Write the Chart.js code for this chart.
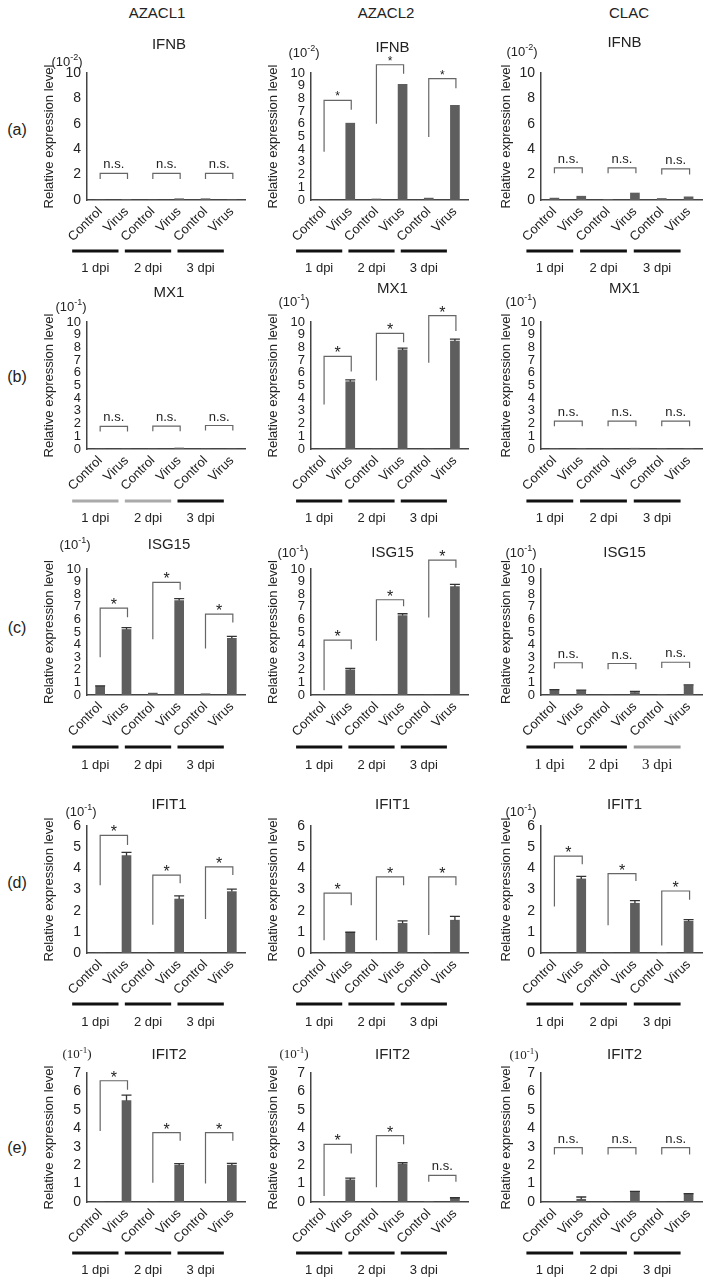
<!DOCTYPE html>
<html lang="en">
<head>
<meta charset="UTF-8">
<title>Relative expression level</title>
<script src="https://cdn.jsdelivr.net/npm/chart.js"></script>
<style>
  body { margin: 0; background: #fff; }
  #fig { position: relative; width: 708px; height: 1283px; font-family: 'Liberation Sans', Arial, sans-serif; color: #222; }
  .lbl { position: absolute; font-size: 15px; transform: translate(-50%, -50%); white-space: nowrap; }
  canvas { position: absolute; }
</style>
</head>
<body>
<div id="fig"></div>
<script>
// ---- data ----
const cellLines = ['AZACL1', 'AZACL2', 'CLAC'];
const rowTags = ['(a)', '(b)', '(c)', '(d)', '(e)'];
const genes = ['IFNB', 'MX1', 'ISG15', 'IFIT1', 'IFIT2'];
const categories = ['Control', 'Virus', 'Control', 'Virus', 'Control', 'Virus'];
const dpiLabels = ['1 dpi', '2 dpi', '3 dpi'];
const yMax = [10, 10, 10, 6, 7];
const exponents = ['-2', '-1', '-1', '-1', '-1'];
const tickSteps = [[2, 1, 2], [1, 1, 1], [1, 1, 1], [1, 1, 1], [1, 1, 1]];

// values per cell line: AZACL1, AZACL2, CLAC
const ifnbValues = [
  [0, 0.05, 0, 0.1, 0.1, 0.02],
  [0, 6.05, 0.08, 9.1, 0.15, 7.45],
  [0.15, 0.3, 0.05, 0.55, 0.12, 0.25]
];
const ifnbErrors = [
  [0, 0, 0, 0, 0, 0],
  [0, 0, 0, 0, 0, 0],
  [0, 0, 0, 0, 0, 0]
];
// [bracket top, left leg end, right leg end, label]
const ifnbMarks = [
  [[2.1, 1.65, 1.65, 'n.s.'], [2.1, 1.65, 1.65, 'n.s.'], [2.1, 1.65, 1.65, 'n.s.']],
  [[7.85, 3.8, 7.1, '*'], [10.65, 6.0, 9.95, '*'], [9.56, 4.96, 8.8, '*']],
  [[2.53, 2.1, 2.1, 'n.s.'], [2.53, 2.1, 2.1, 'n.s.'], [2.45, 2.0, 2.0, 'n.s.']]
];

const mx1Values = [
  [0, 0, 0, 0.08, 0, 0],
  [0, 5.3, 0, 7.8, 0, 8.5],
  [0.02, 0.02, 0, 0.06, 0.02, 0.02]
];
const mx1Errors = [
  [0, 0, 0, 0, 0, 0],
  [0, 0.15, 0, 0.15, 0, 0.15],
  [0, 0, 0, 0, 0, 0]
];
const mx1Marks = [
  [[1.78, 1.38, 1.38, 'n.s.'], [1.8, 1.4, 1.4, 'n.s.'], [1.85, 1.45, 1.45, 'n.s.']],
  [[7.3, 3.5, 6.1, '*'], [9.1, 5.4, 8.4, '*'], [10.5, 6.8, 9.3, '*']],
  [[2.2, 1.8, 1.8, 'n.s.'], [2.2, 1.8, 1.8, 'n.s.'], [2.2, 1.8, 1.8, 'n.s.']]
];

const isg15Values = [
  [0.7, 5.2, 0.15, 7.5, 0.1, 4.5],
  [0, 2.0, 0, 6.3, 0, 8.6],
  [0.4, 0.35, 0, 0.2, 0.02, 0.75]
];
const isg15Errors = [
  [0.03, 0.15, 0, 0.15, 0, 0.15],
  [0, 0.12, 0, 0.15, 0, 0.18],
  [0.03, 0.03, 0, 0.08, 0, 0.05]
];
const isg15Marks = [
  [[6.9, 3.0, 6.18, '*'], [8.94, 4.43, 8.36, '*'], [6.42, 3.7, 5.76, '*']],
  [[4.36, 0.38, 3.64, '*'], [7.56, 4.3, 7.05, '*'], [10.7, 6.15, 10.1, '*']],
  [[2.56, 2.1, 2.1, 'n.s.'], [2.5, 2.05, 2.05, 'n.s.'], [2.6, 2.15, 2.15, 'n.s.']]
];

const ifit1Values = [
  [0, 4.6, 0, 2.55, 0, 2.9],
  [0, 0.95, 0, 1.4, 0, 1.55],
  [0, 3.5, 0, 2.35, 0.02, 1.5]
];
const ifit1Errors = [
  [0, 0.15, 0, 0.15, 0, 0.12],
  [0, 0.03, 0, 0.12, 0, 0.18],
  [0, 0.12, 0, 0.12, 0, 0.08]
];
const ifit1Marks = [
  [[5.56, 3.2, 5.1, '*'], [3.68, 1.33, 3.29, '*'], [4.07, 1.61, 3.68, '*']],
  [[2.83, 0.6, 2.26, '*'], [3.6, 0.6, 3.2, '*'], [3.6, 0.85, 3.2, '*']],
  [[4.58, 2.2, 4.19, '*'], [3.75, 1.31, 3.4, '*'], [2.93, 0.36, 2.52, '*']]
];

const ifit2Values = [
  [0, 5.5, 0, 2.0, 0, 2.0],
  [0, 1.2, 0, 2.05, 0.02, 0.2],
  [0, 0.15, 0, 0.55, 0, 0.42]
];
const ifit2Errors = [
  [0, 0.3, 0, 0.08, 0, 0.1],
  [0, 0.1, 0, 0.08, 0, 0.03],
  [0, 0.12, 0, 0.03, 0, 0.03]
];
const ifit2Marks = [
  [[6.58, 3.85, 6.09, '*'], [3.76, 1.05, 3.33, '*'], [3.76, 1.0, 3.33, '*']],
  [[3.13, 0.33, 2.63, '*'], [3.6, 0.8, 3.13, '*'], [1.44, 1.1, 1.1, 'n.s.']],
  [[2.95, 2.58, 2.58, 'n.s.'], [2.95, 2.58, 2.58, 'n.s.'], [2.95, 2.58, 2.58, 'n.s.']]
];

const valueSets = [ifnbValues, mx1Values, isg15Values, ifit1Values, ifit2Values];
const errorSets = [ifnbErrors, mx1Errors, isg15Errors, ifit1Errors, ifit2Errors];
const markSets = [ifnbMarks, mx1Marks, isg15Marks, ifit1Marks, ifit2Marks];

// ---- layout ----
const SANS = '"Liberation Sans", Arial, sans-serif';
const SERIF = '"Liberation Serif", "Times New Roman", serif';
const colGeom = [
  { left: 42, axis: 87, right: 250, pad: 5, head: 157 },
  { left: 266, axis: 311, right: 473, pad: 5, head: 386 },
  { left: 499, axis: 541, right: 708, pad: 6, head: 629 }
];
const rowGeom = [
  { top: 73, zero: 200, dpiBar: 251, dpiText: 268, tag: 130 },
  { top: 322, zero: 449, dpiBar: 501, dpiText: 518, tag: 377 },
  { top: 569, zero: 695, dpiBar: 747, dpiText: 765, tag: 628 },
  { top: 826, zero: 953, dpiBar: 1004, dpiText: 1022, tag: 883 },
  { top: 1073, zero: 1202, dpiBar: 1253, dpiText: 1270, tag: 1148 }
];
const titleY = [[45, 48, 43], [293, 289, 289], [545, 553, 553], [805, 805, 805], [1055, 1055, 1055]];
const expY = [[62, 53, 52], [307, 302, 302], [545, 553, 553], [812, null, 812], [1055, 1055, 1056]];
const expX = [[67, 304, 522], [71, 294, 521], [75, 293, 521], [81, null, 521], [77, 294, 524]];
const tickFont = [[14, 13, 14], [13, 13, 13], [13, 13, 13], [14, 14, 14], [14, 14, 14]];
const dpiShade = { '1-0': ['#aaa', '#aaa', '#111'], '2-2': ['#111', '#111', '#999'] };

const fig = document.getElementById('fig');

function addLabel(text, x, y, size) {
  const d = document.createElement('div');
  d.className = 'lbl';
  d.textContent = text;
  d.style.left = x + 'px';
  d.style.top = y + 'px';
  if (size) d.style.fontSize = size + 'px';
  fig.appendChild(d);
}

cellLines.forEach((name, c) => addLabel(name, colGeom[c].head, 12, 15));
rowTags.forEach((t, r) => addLabel(t, 17, rowGeom[r].tag, 16));

function drawExp(ctx, cx, cy, exp, serif) {
  const fam = serif ? SERIF : SANS;
  const big = '13px ' + fam, small = '9px ' + fam;
  ctx.font = big;
  const w1 = ctx.measureText('(10').width, w3 = ctx.measureText(')').width;
  ctx.font = small;
  const w2 = ctx.measureText(exp).width;
  let x = cx - (w1 + w2 + w3) / 2;
  ctx.textAlign = 'left';
  ctx.textBaseline = 'middle';
  ctx.fillStyle = '#222';
  ctx.font = big; ctx.fillText('(10', x, cy); x += w1;
  ctx.font = small; ctx.fillText(exp, x, cy - 4); x += w2;
  ctx.font = big; ctx.fillText(')', x, cy);
}

function makePanel(r, c) {
  const g = rowGeom[r], k = colGeom[c];
  const canvasTop = g.top - 45;
  const canvas = document.createElement('canvas');
  canvas.width = k.right - k.left;
  canvas.height = g.zero + 82 - canvasTop;
  canvas.style.left = k.left + 'px';
  canvas.style.top = canvasTop + 'px';
  fig.appendChild(canvas);

  const vals = valueSets[r][c];
  const errs = errorSets[r][c];
  const marks = markSets[r][c];

  const extras = {
    id: 'extras',
    afterDatasetsDraw(chart) {
      const ctx = chart.ctx, xs = chart.scales.x, ys = chart.scales.y;
      const px = i => xs.getPixelForValue(i);
      ctx.save();
      // error bars
      ctx.strokeStyle = '#333';
      ctx.lineWidth = 1.3;
      errs.forEach((e, i) => {
        if (!e) return;
        const x = px(i), y0 = ys.getPixelForValue(vals[i]), y1 = ys.getPixelForValue(vals[i] + e);
        ctx.beginPath();
        ctx.moveTo(x, y0); ctx.lineTo(x, y1);
        ctx.moveTo(x - 5, y1); ctx.lineTo(x + 5, y1);
        ctx.stroke();
      });
      // significance brackets
      marks.forEach((m, gi) => {
        const [top, lb, rb, label] = m;
        const xl = px(2 * gi), xr = px(2 * gi + 1) + 1;
        const yt = ys.getPixelForValue(top);
        ctx.strokeStyle = '#666';
        ctx.lineWidth = 1.2;
        ctx.beginPath();
        ctx.moveTo(xl, ys.getPixelForValue(lb));
        ctx.lineTo(xl, yt);
        ctx.lineTo(xr, yt);
        ctx.lineTo(xr, ys.getPixelForValue(rb));
        ctx.stroke();
        ctx.fillStyle = '#222';
        ctx.textAlign = 'center';
        ctx.textBaseline = 'alphabetic';
        if (label === '*') {
          ctx.font = (r === 0 ? '12px ' : '16px ') + SANS;
          ctx.fillText('*', (xl + xr) / 2, yt + (r === 0 ? 0 : 2));
        } else {
          ctx.font = '13px ' + SANS;
          ctx.fillText(label, (xl + xr) / 2, yt - 5);
        }
      });
      // time point bars and labels
      const shades = dpiShade[r + '-' + c] || ['#111', '#111', '#111'];
      dpiLabels.forEach((t, gi) => {
        const x0 = px(2 * gi) - 28, x1 = px(2 * gi + 1) - 8;
        const yb = g.dpiBar - canvasTop;
        ctx.strokeStyle = shades[gi];
        ctx.lineWidth = 3;
        ctx.beginPath();
        ctx.moveTo(x0, yb); ctx.lineTo(x1, yb);
        ctx.stroke();
        ctx.fillStyle = '#222';
        ctx.font = (r === 2 && c === 2 ? '15px ' + SERIF : '13px ' + SANS);
        ctx.textAlign = 'center';
        ctx.textBaseline = 'middle';
        ctx.fillText(t, (x0 + x1) / 2, g.dpiText - canvasTop);
      });
      // gene title and exponent
      ctx.fillStyle = '#222';
      ctx.font = '15px ' + SANS;
      ctx.textAlign = 'center';
      ctx.textBaseline = 'middle';
      ctx.fillText(genes[r], (chart.chartArea.left + chart.chartArea.right) / 2 + 3, titleY[r][c] - canvasTop);
      if (expY[r][c] !== null) {
        drawExp(ctx, expX[r][c] - k.left, expY[r][c] - canvasTop, exponents[r], r === 4);
      }
      ctx.restore();
    }
  };

  new Chart(canvas, {
    type: 'bar',
    data: {
      labels: categories,
      datasets: [{ data: vals, backgroundColor: '#5e5e5e', barThickness: 9 }]
    },
    options: {
      responsive: false,
      animation: false,
      layout: { padding: { top: 45, right: k.pad, bottom: 0, left: 0 } },
      plugins: { legend: { display: false }, tooltip: { enabled: false } },
      scales: {
        x: {
          grid: { display: false, drawTicks: false },
          border: { color: '#444', width: 1.5 },
          ticks: { minRotation: 45, maxRotation: 45, autoSkip: false, padding: 4, color: '#222', font: { size: 13, family: SANS } },
          afterFit(s) { s.height = 82; }
        },
        y: {
          min: 0,
          max: yMax[r],
          grid: { display: false, drawTicks: false },
          border: { color: '#444', width: 1.5 },
          ticks: { stepSize: tickSteps[r][c], autoSkip: false, padding: 6, color: '#222', font: { size: tickFont[r][c], family: SANS, lineHeight: 1 } },
          title: { display: true, text: 'Relative expression level', color: '#222', padding: 0, font: { size: 13, family: SANS } },
          afterFit(s) { s.width = k.axis - k.left; }
        }
      }
    },
    plugins: [extras]
  });
}

for (let r = 0; r < 5; r++) {
  for (let c = 0; c < 3; c++) makePanel(r, c);
}
</script>
</body>
</html>
